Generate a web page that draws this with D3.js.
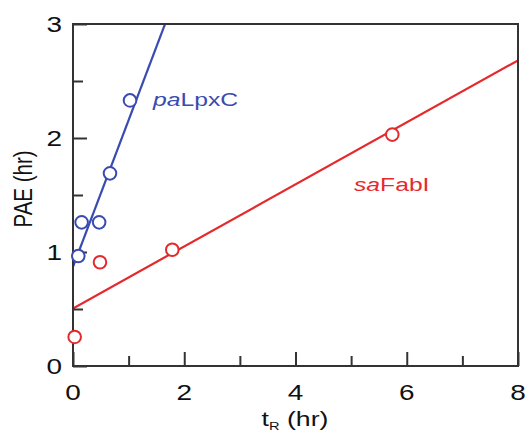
<!DOCTYPE html>
<html><head><meta charset="utf-8">
<script src="https://cdn.jsdelivr.net/npm/d3@7"></script>
<style>body{margin:0;background:#fff}svg{display:block}text{font-family:"Liberation Sans",Arial,sans-serif}</style>
</head><body>
<script>
const paT = [0.095, 0.155, 0.47, 0.665, 1.025];
const paPAE = [0.965, 1.26, 1.26, 1.69, 2.33];
const paFit = [0.87, 1.287]; // intercept, slope
const saT = [0.03, 0.485, 1.785, 5.74];
const saPAE = [0.255, 0.91, 1.02, 2.03];
const saFit = [0.505, 0.272];
const xTicks = [0, 2, 4, 6, 8];
const xMinor = [1, 3, 5, 7];
const yTicks = [0, 1, 2, 3];
const yMinor = [0.5, 1.5, 2.5];
const blue = "#3a4bb0", red = "#e42a2c", axisCol = "#333";
const SX = 1.3;

const W = 527, H = 434;
const svg = d3.select("body").append("svg").attr("width", W).attr("height", H);
const x = d3.scaleLinear().domain([0, 8]).range([73, 518]);
const y = d3.scaleLinear().domain([0, 3]).range([366, 24]);

svg.append("clipPath").attr("id", "c").append("rect")
  .attr("x", x(0)).attr("y", y(3)).attr("width", x(8) - x(0)).attr("height", y(0) - y(3));

function txt(g, px, py, anchor, size, parts, color, rot) {
  const t = g.append("text")
    .attr("transform", `translate(${px},${py}) scale(${SX},1)` + (rot ? " rotate(-90)" : ""))
    .attr("text-anchor", anchor).attr("font-size", size).attr("fill", color || "#111");
  parts.forEach(p => {
    const s = t.append("tspan").text(p.t);
    if (p.i) s.attr("font-style", "italic");
    if (p.sub) s.attr("font-size", size * 0.55).attr("dy", 4);
    if (p.up) s.attr("dy", -4);
  });
  return t;
}

// lines
const lg = svg.append("g").attr("clip-path", "url(#c)");
[[paFit, blue], [saFit, red]].forEach(([f, c]) => {
  lg.append("line").attr("x1", x(0)).attr("y1", y(f[0]))
    .attr("x2", x(8)).attr("y2", y(f[0] + f[1] * 8))
    .attr("stroke", c).attr("stroke-width", 2.2);
});

// axes frame
svg.append("path").attr("d", `M${x(0)},${y(3)}H${x(8)}V${y(0)}H${x(0)}Z`)
  .attr("fill", "none").attr("stroke", axisCol).attr("stroke-width", 2);

// ticks (inward)
const xAxis = d3.axisBottom(x).tickValues(xTicks).tickSize(-14).tickFormat("");
const xAxisM = d3.axisBottom(x).tickValues(xMinor).tickSize(-10).tickFormat("");
const yAxis = d3.axisLeft(y).tickValues(yTicks).tickSize(-14).tickFormat("");
const yAxisM = d3.axisLeft(y).tickValues(yMinor).tickSize(-10).tickFormat("");
[[xAxis, `translate(0,${y(0)})`], [xAxisM, `translate(0,${y(0)})`],
 [yAxis, `translate(${x(0)},0)`], [yAxisM, `translate(${x(0)},0)`]].forEach(([a, tr]) => {
  const g = svg.append("g").attr("transform", tr).call(a);
  g.select(".domain").remove();
  g.selectAll("line").attr("stroke", axisCol).attr("stroke-width", 2);
});

// tick labels
const tl = svg.append("g");
xTicks.forEach(v => txt(tl, x(v), 400, "middle", 21.5, [{t: String(v)}]));
yTicks.forEach(v => txt(tl, 62, y(v) + 7.7, "end", 21.5, [{t: String(v)}]));

// axis titles
txt(tl, 295, 426, "middle", 20.5, [{t: "t"}, {t: "R", sub: true}, {t: " (hr)", up: true}]);
txt(tl, 32, 189, "middle", 20.5, [{t: "PAE (hr)"}], null, true);

// points
[[paT, paPAE, blue], [saT, saPAE, red]].forEach(([xs, ys, c]) => {
  svg.append("g").selectAll("circle").data(xs.map((v, i) => [v, ys[i]])).join("circle")
    .attr("cx", d => x(d[0])).attr("cy", d => y(d[1])).attr("r", 6.3)
    .attr("fill", "#fff").attr("stroke", c).attr("stroke-width", 2);
});

// series labels
txt(tl, 153, 106, "start", 19, [{t: "pa", i: true}, {t: "LpxC"}], blue);
txt(tl, 354, 191, "start", 19, [{t: "sa", i: true}, {t: "FabI"}], red);
</script>
</body></html>
